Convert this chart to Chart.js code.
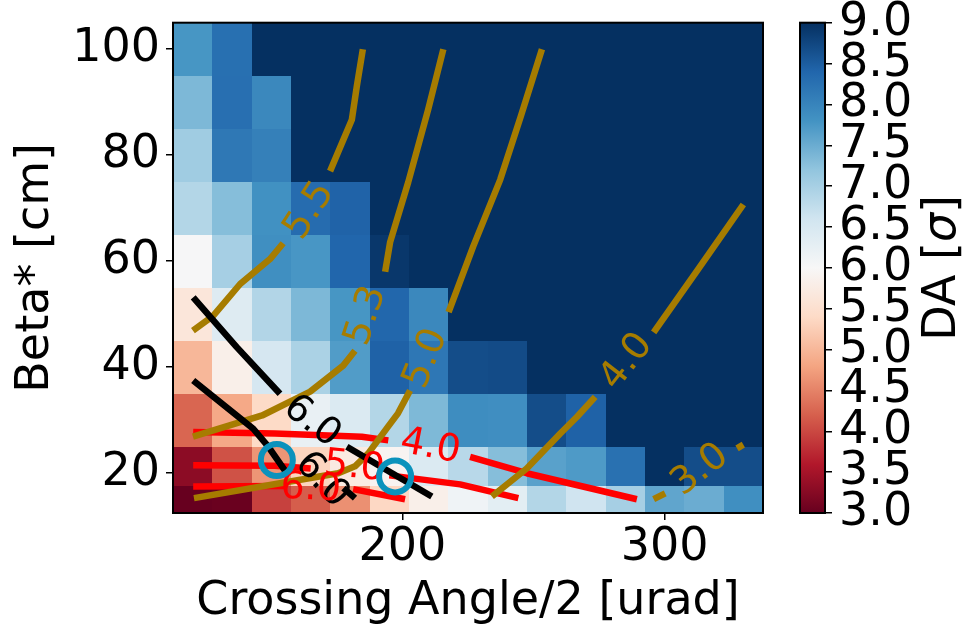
<!DOCTYPE html>
<html>
<head>
<meta charset="utf-8">
<title>DA scan</title>
<script src="https://cdn.jsdelivr.net/npm/chart.js@4.4.0/dist/chart.umd.min.js"></script>
<style>
  html, body { margin: 0; padding: 0; background: #ffffff; }
  #wrap { position: relative; width: 968px; height: 630px; }
  #wrap canvas { position: absolute; left: 0; top: 0; }
</style>
</head>
<body>
<div id="wrap">
  <canvas id="daMap" width="968" height="630"></canvas>
  <canvas id="daBar" width="968" height="630"></canvas>
</div>
<script>
// ---- scan grid -------------------------------------------------------------
// half crossing angle [urad] (columns) and beta* [cm] (rows)
const crossingAngles = [120, 135, 150, 165, 180, 195, 210, 225, 240, 255, 270, 285, 300, 315, 330];
const betaStars = [15, 20, 30, 40, 50, 60, 70, 80, 90, 100];

// dynamic aperture [sigma], one row per beta*, one value per crossing angle
const daBeta15  = [3.00, 3.02, 3.94, 4.18, 4.62, 5.37, 5.82, 6.12, 6.31, 6.89, 6.61, 7.01, 7.58, 7.50, 7.85];
const daBeta20  = [3.30, 4.08, 4.66, 5.33, 5.72, 5.92, 6.44, 6.84, 7.29, 7.63, 7.72, 8.26, 9.00, 8.68, 8.68];
const daBeta30  = [4.25, 4.84, 5.40, 6.22, 6.44, 6.89, 7.35, 7.88, 7.86, 8.68, 8.44, 9.00, 9.00, 9.00, 9.00];
const daBeta40  = [5.00, 5.83, 6.52, 6.96, 7.69, 8.44, 8.17, 8.68, 8.70, 9.00, 9.00, 9.00, 9.00, 9.00, 9.00];
const daBeta50  = [5.64, 6.39, 6.90, 7.36, 7.77, 8.39, 7.95, 9.00, 9.00, 9.00, 9.00, 9.00, 9.00, 9.00, 9.00];
const daBeta60  = [6.02, 7.01, 7.85, 7.76, 8.40, 8.92, 9.00, 9.00, 9.00, 9.00, 9.00, 9.00, 9.00, 9.00, 9.00];
const daBeta70  = [6.89, 7.29, 7.83, 8.32, 8.43, 9.00, 9.00, 9.00, 9.00, 9.00, 9.00, 9.00, 9.00, 9.00, 9.00];
const daBeta80  = [7.07, 8.16, 8.05, 9.00, 9.00, 9.00, 9.00, 9.00, 9.00, 9.00, 9.00, 9.00, 9.00, 9.00, 9.00];
const daBeta90  = [7.36, 8.28, 7.95, 9.00, 9.00, 9.00, 9.00, 9.00, 9.00, 9.00, 9.00, 9.00, 9.00, 9.00, 9.00];
const daBeta100 = [7.77, 8.27, 9.00, 9.00, 9.00, 9.00, 9.00, 9.00, 9.00, 9.00, 9.00, 9.00, 9.00, 9.00, 9.00];
const daRows = [daBeta15, daBeta20, daBeta30, daBeta40, daBeta50, daBeta60, daBeta70, daBeta80, daBeta90, daBeta100];

// ---- ticks -----------------------------------------------------------------
const angleTicks = [200, 300];
const betaTicks = [20, 40, 60, 80, 100];
const daTicks = [3.0, 3.5, 4.0, 4.5, 5.0, 5.5, 6.0, 6.5, 7.0, 7.5, 8.0, 8.5, 9.0];
const daRange = [3, 9];

// ---- contour lines: [crossing angle, beta*] points on either side of the inline label
const goldLevels = [5.5, 5.3, 5.0, 4.0, 3.0];
const gold55Low  = [[120.1, 46.9], [127.8, 49.7], [138.1, 55.7], [149.5, 60.4], [154.5, 63.4]];
const gold55High = [[172.4, 77.0], [180.7, 86.7], [182.6, 93.0], [184.9, 100.0]];
const gold55Label = [164.7, 69.5];
const gold53Low  = [[120.1, 26.9], [146.5, 30.9], [164.8, 35.4], [177.4, 40.3], [181.9, 43.1]];
const gold53High = [[193.4, 58.0], [195.3, 63.6], [202.2, 74.9], [209.8, 88.6], [215.6, 100.0]];
const gold53Label = [186.3, 49.7];
const gold50Low  = [[120.5, 15.3], [153.3, 18.1], [175.5, 20.0], [181.9, 21.3], [186.9, 23.7], [194.5, 28.8], [198.3, 31.3], [202.9, 35.6]];
const gold50High = [[217.6, 50.4], [227.0, 62.8], [237.3, 75.4], [245.3, 87.6], [253.2, 100.0]];
const gold50Label = [209.1, 41.6];
const gold40Low  = [[234.1, 15.6], [247.4, 20.9], [260.2, 27.5], [266.5, 30.6], [273.5, 34.4]];
const gold40High = [[295.8, 46.6], [312.8, 58.5], [330.0, 70.7]];
const gold40Label = [285.6, 41.0];
const gold30Low  = [[295.8, 15.1], [300.2, 16.2]];
const gold30High = [[327.6, 24.7], [330.0, 25.4]];
const gold30Label = [313.6, 20.6];

const blackLevel = 6.0;
const blackUpperA = [[120.2, 53.2], [136.8, 43.8], [153.3, 35.0]];
const blackUpperB = [[178.8, 25.0], [211.2, 15.6]];
const blackUpperLabel = [165.4, 29.7];
const blackLowerA = [[120.2, 37.5], [143.1, 28.4], [148.7, 25.1], [155.2, 20.5]];
const blackLowerB = [[177.5, 17.2], [181.9, 15.3]];
const blackLowerLabel = [169.2, 18.7];

const redLevels = [4.0, 5.0, 6.0];
const red40A = [[120.2, 27.8], [151.4, 27.5], [184.5, 26.9], [194.6, 26.2]];
const red40B = [[225.8, 23.1], [247.4, 20.0], [289.4, 15.1]];
const red40Label = [210.6, 24.9];
const red50A = [[120.2, 21.5], [151.4, 21.4], [165.0, 20.9]];
const red50B = [[195.0, 19.6], [222.0, 17.9], [244.2, 15.3]];
const red50Label = [181.6, 21.1];
const red60A = [[120.2, 17.5], [154.9, 17.6]];
const red60B = [[181.2, 17.0], [201.0, 15.1]];
const red60Label = [165.0, 17.0];

// ---- working points ---------------------------------------------------------
const wpAngles = [152.1, 197.2];
const wpBetas = [22.5, 19.4];

// ---- styling -----------------------------------------------------------------
const FONT = 'DejaVu Sans';
const GOLD = '#a67c00';
const RED = '#ff0000';
const BLACK = '#000000';
const WP_COLOR = '#0b92bc';
const RDBU = ['#67001f', '#b2182b', '#d6604d', '#f4a582', '#fddbc7', '#f7f7f7',
              '#d1e5f0', '#92c5de', '#4393c3', '#2166ac', '#053061'];

const contours = [
  { parts: [blackUpperA, blackUpperB], label: blackUpperLabel, level: blackLevel, color: BLACK, angle: 38 },
  { parts: [blackLowerA, blackLowerB], label: blackLowerLabel, level: blackLevel, color: BLACK, angle: 48 },
  { parts: [gold55Low, gold55High], label: gold55Label, level: goldLevels[0], color: GOLD, angle: -57 },
  { parts: [gold53Low, gold53High], label: gold53Label, level: goldLevels[1], color: GOLD, angle: -72 },
  { parts: [gold50Low, gold50High], label: gold50Label, level: goldLevels[2], color: GOLD, angle: -68 },
  { parts: [gold40Low, gold40High], label: gold40Label, level: goldLevels[3], color: GOLD, angle: -52 },
  { parts: [gold30Low, gold30High], label: gold30Label, level: goldLevels[4], color: GOLD, angle: -38 },
  { parts: [red40A, red40B], label: red40Label, level: redLevels[0], color: RED, angle: 11 },
  { parts: [red50A, red50B], label: red50Label, level: redLevels[1], color: RED, angle: 6 },
  { parts: [red60A, red60B], label: red60Label, level: redLevels[2], color: RED, angle: 3 }
];

// ---- helpers -------------------------------------------------------------------
function cellEdges(c) {
  const e = [c[0] - (c[1] - c[0]) / 2];
  for (let i = 0; i < c.length - 1; i++) e.push((c[i] + c[i + 1]) / 2);
  e.push(c[c.length - 1] + (c[c.length - 1] - c[c.length - 2]) / 2);
  return e;
}
const angleEdges = cellEdges(crossingAngles);
const betaEdges = cellEdges(betaStars);

function hexRgb(h) {
  return [parseInt(h.slice(1, 3), 16), parseInt(h.slice(3, 5), 16), parseInt(h.slice(5, 7), 16)];
}
const RDBU_RGB = RDBU.map(hexRgb);
function rdbu(v) {
  let t = (v - daRange[0]) / (daRange[1] - daRange[0]);
  t = Math.min(1, Math.max(0, t)) * (RDBU_RGB.length - 1);
  const i = Math.min(Math.floor(t), RDBU_RGB.length - 2);
  const f = t - i;
  const a = RDBU_RGB[i], b = RDBU_RGB[i + 1];
  const c = a.map((av, k) => Math.round(av + (b[k] - av) * f));
  return `rgb(${c[0]},${c[1]},${c[2]})`;
}
const toXY = pts => pts.map(p => ({ x: p[0], y: p[1] }));

// ---- datasets (index 0 is drawn last, i.e. on top) ---------------------------
const datasets = [{
  label: 'working points',
  data: wpAngles.map((a, i) => ({ x: a, y: wpBetas[i] })),
  showLine: false,
  pointRadius: 16,
  pointHoverRadius: 16,
  pointBorderWidth: 6,
  pointBackgroundColor: 'rgba(0,0,0,0)',
  pointBorderColor: WP_COLOR
}];
contours.forEach(c => {
  c.parts.forEach(part => {
    datasets.push({
      label: 'DA ' + c.level.toFixed(1),
      data: toXY(part),
      showLine: true,
      borderColor: c.color,
      borderWidth: 6.5,
      borderCapStyle: 'butt',
      borderJoinStyle: 'round',
      pointRadius: 0,
      pointHoverRadius: 0,
      fill: false,
      tension: 0
    });
  });
});

// ---- plugins ---------------------------------------------------------------------
const heatmapPlugin = {
  id: 'daHeatmap',
  beforeDatasetsDraw(chart) {
    const { ctx, chartArea, scales: { x, y } } = chart;
    ctx.save();
    ctx.beginPath();
    ctx.rect(chartArea.left, chartArea.top, chartArea.width, chartArea.height);
    ctx.clip();
    daRows.forEach((row, j) => {
      const yTop = Math.round(y.getPixelForValue(betaEdges[j + 1]));
      const yBot = Math.round(y.getPixelForValue(betaEdges[j]));
      row.forEach((v, i) => {
        const xl = Math.round(x.getPixelForValue(angleEdges[i]));
        const xr = Math.round(x.getPixelForValue(angleEdges[i + 1]));
        ctx.fillStyle = rdbu(v);
        ctx.fillRect(xl, yTop, xr - xl, yBot - yTop);
      });
    });
    ctx.restore();
  }
};

const contourLabelPlugin = {
  id: 'contourLabels',
  afterDatasetDraw(chart, args) {
    if (args.index !== 1) return;
    const { ctx, scales: { x, y } } = chart;
    ctx.save();
    ctx.font = `38px "${FONT}"`;
    ctx.textAlign = 'center';
    ctx.textBaseline = 'middle';
    contours.forEach(c => {
      const px = x.getPixelForValue(c.label[0]);
      const py = y.getPixelForValue(c.label[1]);
      ctx.save();
      ctx.translate(px, py);
      ctx.rotate(c.angle * Math.PI / 180);
      ctx.fillStyle = c.color;
      ctx.fillText(c.level.toFixed(1), 0, 0);
      ctx.restore();
    });
    ctx.restore();
  }
};

const framePlugin = {
  id: 'frame',
  afterDraw(chart) {
    const { ctx, chartArea: a } = chart;
    ctx.save();
    ctx.strokeStyle = '#000';
    ctx.lineWidth = 2;
    ctx.strokeRect(a.left, a.top, a.width, a.height);
    ctx.restore();
  }
};

const tickFont = { family: FONT, size: 46, lineHeight: 1 };
const titleFont = { family: FONT, size: 46, lineHeight: 1.2 };
const tickGrid = { drawOnChartArea: false, tickLength: 7, color: '#000', lineWidth: 1.5 };

// ---- main map ----------------------------------------------------------------------
new Chart(document.getElementById('daMap'), {
  type: 'scatter',
  data: { datasets },
  options: {
    responsive: false,
    animation: false,
    events: [],
    layout: { padding: { left: 0, right: 205, top: 22.7, bottom: 0 } },
    plugins: { legend: { display: false }, tooltip: { enabled: false } },
    scales: {
      x: {
        type: 'linear',
        min: angleEdges[0],
        max: angleEdges[angleEdges.length - 1],
        afterBuildTicks: s => { s.ticks = angleTicks.map(v => ({ value: v })); },
        ticks: { font: tickFont, color: '#000', padding: 5, maxRotation: 0, autoSkip: false },
        grid: tickGrid,
        border: { display: false },
        title: { display: true, text: 'Crossing Angle/2 [urad]', font: titleFont, color: '#000', padding: { top: 0, bottom: 0 } },
        afterFit: s => { s.height = 117; s.paddingLeft = 0; s.paddingRight = 0; }
      },
      y: {
        type: 'linear',
        min: betaEdges[0],
        max: betaEdges[betaEdges.length - 1],
        afterBuildTicks: s => { s.ticks = betaTicks.map(v => ({ value: v })); },
        ticks: { font: tickFont, color: '#000', padding: 6, autoSkip: false },
        grid: tickGrid,
        border: { display: false },
        title: { display: true, text: 'Beta* [cm]', font: titleFont, color: '#000', padding: { top: 8, bottom: 0 } },
        afterFit: s => { s.width = 173; s.paddingTop = 0; s.paddingBottom = 0; }
      }
    }
  },
  plugins: [heatmapPlugin, contourLabelPlugin, framePlugin]
});

// ---- colour bar --------------------------------------------------------------------
const colorbarPlugin = {
  id: 'colorbar',
  beforeDatasetsDraw(chart) {
    const { ctx, chartArea: a, scales: { y } } = chart;
    const g = ctx.createLinearGradient(0, y.getPixelForValue(daRange[0]), 0, y.getPixelForValue(daRange[1]));
    RDBU.forEach((c, i) => g.addColorStop(i / (RDBU.length - 1), c));
    ctx.save();
    ctx.fillStyle = g;
    ctx.fillRect(a.left, a.top, a.width, a.height);
    ctx.restore();
  },
  afterDraw(chart) {
    const { ctx, chartArea: a } = chart;
    ctx.save();
    ctx.strokeStyle = '#000';
    ctx.lineWidth = 2;
    ctx.strokeRect(a.left, a.top, a.width, a.height);
    // axis title "DA [σ]" with an italic sigma, reading bottom to top
    const parts = [
      { t: 'DA [', f: `46px "${FONT}"` },
      { t: 'σ', f: `italic 46px "${FONT}"` },
      { t: ']', f: `46px "${FONT}"` }
    ];
    let total = 0;
    parts.forEach(p => { ctx.font = p.f; p.w = ctx.measureText(p.t).width; total += p.w; });
    ctx.translate(a.right + 118, (a.top + a.bottom) / 2);
    ctx.rotate(-Math.PI / 2);
    ctx.fillStyle = '#000';
    ctx.textBaseline = 'middle';
    ctx.textAlign = 'left';
    let cx = -total / 2;
    parts.forEach(p => { ctx.font = p.f; ctx.fillText(p.t, cx, 0); cx += p.w; });
    ctx.restore();
  }
};

new Chart(document.getElementById('daBar'), {
  type: 'scatter',
  data: { datasets: [] },
  options: {
    responsive: false,
    animation: false,
    events: [],
    layout: { padding: { left: 800, right: 33, top: 22.7, bottom: 117 } },
    plugins: { legend: { display: false }, tooltip: { enabled: false } },
    scales: {
      x: { display: false, min: 0, max: 1 },
      y: {
        type: 'linear',
        position: 'right',
        min: daRange[0],
        max: daRange[1],
        afterBuildTicks: s => { s.ticks = daTicks.map(v => ({ value: v })); },
        ticks: { font: tickFont, color: '#000', padding: 7, autoSkip: false, callback: v => Number(v).toFixed(1) },
        grid: tickGrid,
        border: { display: false },
        afterFit: s => { s.width = 110; s.paddingTop = 0; s.paddingBottom = 0; }
      }
    }
  },
  plugins: [colorbarPlugin]
});
</script>
</body>
</html>
